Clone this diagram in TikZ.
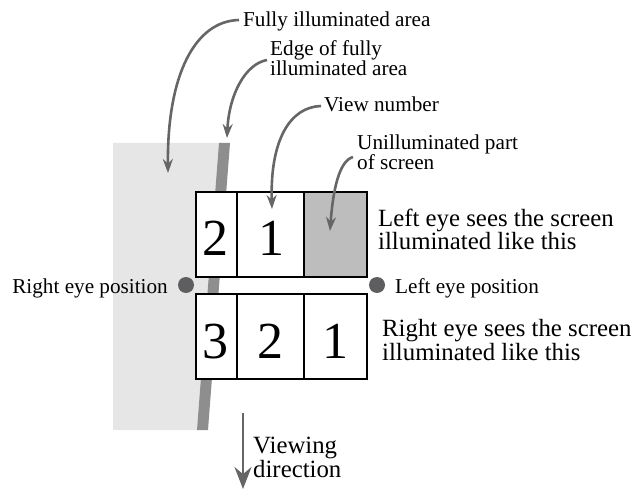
\documentclass[tikz,border=0pt]{standalone}
\usepackage{fontspec}
\setmainfont{Liberation Serif}
\usetikzlibrary{arrows.meta}
\definecolor{lightfill}{HTML}{E6E6E6}
\definecolor{stripe}{HTML}{8E8E8E}
\definecolor{cellgray}{HTML}{BDBDBD}
\definecolor{arrowgray}{HTML}{666666}
\definecolor{dotgray}{HTML}{5E5E60}
\tikzset{
  lbl/.style={anchor=base west, font=\fontsize{21.2}{16.5}\selectfont, align=left, inner sep=0pt},
  biglbl/.style={anchor=base west, font=\fontsize{24.8}{20.5}\selectfont, align=left, inner sep=0pt},
  lblr/.style={anchor=base east, font=\fontsize{21.2}{16.5}\selectfont, inner sep=0pt},
  cellbox/.style={draw=black, line width=2.2pt},
  digit/.style={anchor=base, font=\fontsize{52}{52}\selectfont, inner sep=0pt},
  callout/.style={draw=arrowgray, line width=2.6pt, -{Stealth[length=14pt,width=10pt]}},
  eyedot/.style={circle, fill=dotgray, minimum size=16pt, inner sep=0pt},
}
\begin{document}
\begin{tikzpicture}[x=1pt,y=-1pt]
\useasboundingbox (0,0) rectangle (640,489);
% illuminated area
\fill[lightfill] (113,143) -- (222,143) -- (199,430) -- (113,430) -- cycle;
\fill[stripe] (219,143) -- (230,143) -- (208,430) -- (197,430) -- cycle;
% top row
\fill[white] (196,192) rectangle (304,277);
\fill[cellgray] (304,192) rectangle (367,277);
\draw[cellbox] (196,192) rectangle (367,277);
\draw[cellbox] (237,192) -- (237,277);
\draw[cellbox] (304,192) -- (304,277);
% bottom row
\fill[white] (196,294) rectangle (367,379);
\draw[cellbox] (196,294) rectangle (367,379);
\draw[cellbox] (237,294) -- (237,379);
\draw[cellbox] (304,294) -- (304,379);
% digits
\node[digit] (t2) at (215,255) {2};
\node[digit] (t1) at (271,255) {1};
\node[digit] (b3) at (215,358) {3};
\node[digit] (b2) at (270,358) {2};
\node[digit] (b1) at (335,358) {1};
% eye dots
\node[eyedot] (re) at (186,285) {};
\node[eyedot] (le) at (377,285) {};
\node[lblr] (relbl) at (168,293) {Right eye position};
\node[lbl] (lelbl) at (395,293) {Left eye position};
% side labels
\node[biglbl] (ltxt) at (378,250) {Left eye sees the screen\\illuminated like this};
\node[biglbl] (rtxt) at (382,360) {Right eye sees the screen\\illuminated like this};
% callout labels
\node[lbl] (fia) at (243,27) {Fully illuminated area};
\node[lbl] (edge) at (270,76) {Edge of fully\\illuminated area};
\node[lbl, font=\fontsize{21.2}{17}\selectfont] (vn) at (324,112) {View number};
\node[lbl, font=\fontsize{21.2}{17}\selectfont] (un) at (357,170) {Unilluminated part\\of screen};
\node[biglbl, font=\fontsize{24.8}{19}\selectfont] (vd) at (253,477) {Viewing\\direction};
% callout arrows
\coordinate (fiat) at (168,173);
\coordinate (edget) at (227,138);
\coordinate (vnt) at (272,209);
\coordinate (unt) at (330,231);
\draw[callout] (239,20) .. controls (195,21) and (167,75) .. (fiat);
\draw[callout] (267,60) .. controls (245,64) and (229,95) .. (edget);
\draw[callout] (321,106) .. controls (290,107) and (270,140) .. (vnt);
\draw[callout] (353,157) .. controls (339,161) and (333,190) .. (unt);
% viewing direction arrow
\coordinate (vdt) at (243,413);
\coordinate (vdh) at (243,489);
\draw[draw=arrowgray, line width=2.6pt, -{Stealth[length=22pt,width=17pt]}] (vdt) -- (vdh);
\end{tikzpicture}
\end{document}
